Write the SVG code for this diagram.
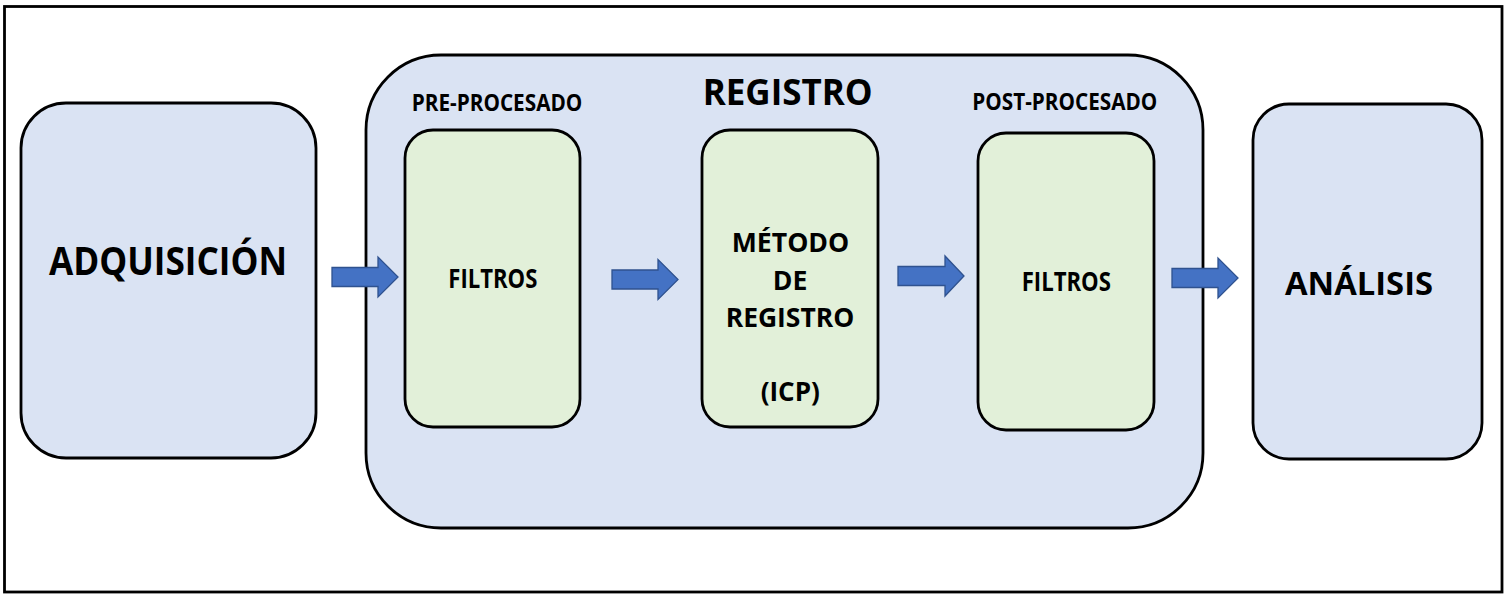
<svg xmlns="http://www.w3.org/2000/svg" width="1507" height="597" viewBox="0 0 1507 597">
<style>
.blue{fill:#DAE3F3;stroke:#000;stroke-width:2.8}
.green{fill:#E2F0D9;stroke:#000;stroke-width:2.8}
.t{font-family:"Open Sans","Liberation Sans",sans-serif;font-weight:bold;fill:#000;text-anchor:middle}
.arr{fill:#4472C4;stroke:#2F528F;stroke-width:1.3}
</style>
<rect x="0" y="0" width="1507" height="597" fill="#fff"/>
<rect id="frame" x="4.5" y="6.5" width="1497.5" height="585.5" fill="#fff" stroke="#000" stroke-width="2.8"/>
<g id="adquisicion">
<rect class="blue" x="21" y="103" width="295" height="355" rx="45"/>
<text class="t" x="168" y="275" font-size="39" textLength="238" lengthAdjust="spacingAndGlyphs">ADQUISICIÓN</text>
</g>
<g id="registro">
<rect class="blue" x="366" y="55" width="837" height="473" rx="75"/>
<text class="t" x="787.7" y="105" font-size="36" textLength="170" lengthAdjust="spacingAndGlyphs">REGISTRO</text>
<text class="t" x="497" y="110.7" font-size="22.5" textLength="170.6" lengthAdjust="spacingAndGlyphs">PRE-PROCESADO</text>
<text class="t" x="1064.8" y="110" font-size="22.5" textLength="185" lengthAdjust="spacingAndGlyphs">POST-PROCESADO</text>
</g>
<g id="filtros-pre">
<rect class="green" x="405" y="130" width="175" height="297" rx="28"/>
<text class="t" x="492.8" y="288" font-size="26.5" textLength="89" lengthAdjust="spacingAndGlyphs">FILTROS</text>
</g>
<g id="metodo">
<rect class="green" x="702" y="130" width="176" height="297" rx="28"/>
<text class="t" x="790.5" y="251.7" font-size="26" textLength="117.6" lengthAdjust="spacingAndGlyphs">MÉTODO</text>
<text class="t" x="790" y="290" font-size="26" textLength="34.6" lengthAdjust="spacingAndGlyphs">DE</text>
<text class="t" x="790" y="327" font-size="26" textLength="128.6" lengthAdjust="spacingAndGlyphs">REGISTRO</text>
<text class="t" x="790.3" y="401" font-size="26" textLength="59.3" lengthAdjust="spacingAndGlyphs">(ICP)</text>
</g>
<g id="filtros-post">
<rect class="green" x="978" y="133" width="176" height="297" rx="28"/>
<text class="t" x="1066.3" y="290.7" font-size="26.5" textLength="89.3" lengthAdjust="spacingAndGlyphs">FILTROS</text>
</g>
<g id="analisis">
<rect class="blue" x="1253" y="104" width="229" height="355" rx="36"/>
<text class="t" x="1359" y="295" font-size="33" textLength="148" lengthAdjust="spacingAndGlyphs">ANÁLISIS</text>
</g>
<g id="connectors">
<polygon class="arr" points="332,267.5 378,267.5 378,257 398,277 378,297 378,286.5 332,286.5"/>
<polygon class="arr" points="612,270 658,270 658,259.5 678,279.5 658,299.5 658,289 612,289"/>
<polygon class="arr" points="898,266.5 945,266.5 945,256 964,276 945,296 945,285.5 898,285.5"/>
<polygon class="arr" points="1172,268.5 1218,268.5 1218,258 1238,278 1218,298 1218,287.5 1172,287.5"/>
</g>
</svg>
